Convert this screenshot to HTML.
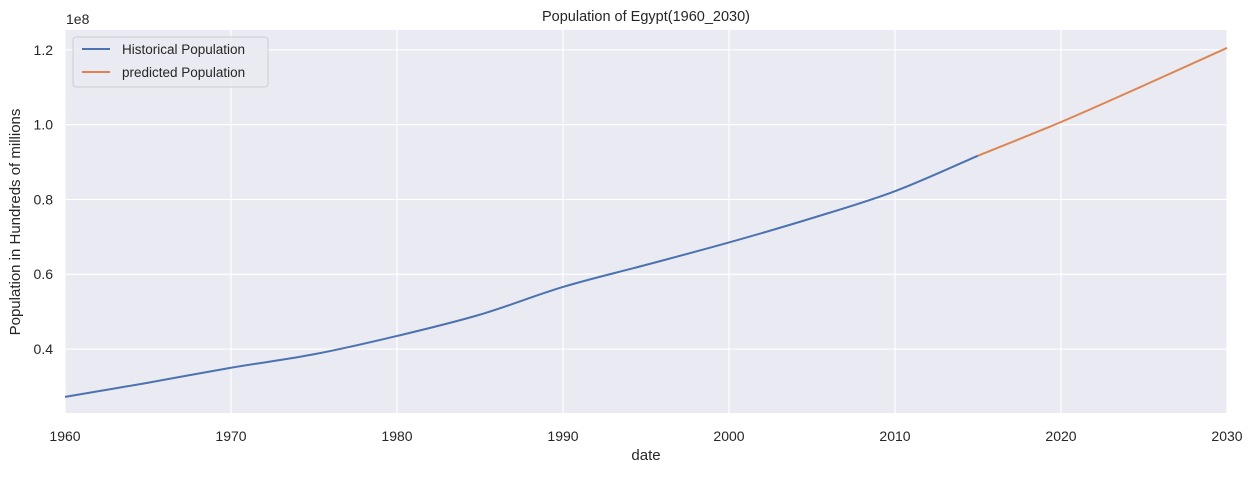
<!DOCTYPE html>
<html><head><meta charset="utf-8"><style>
body{margin:0;background:#fff;font-family:"Liberation Sans","DejaVu Sans",sans-serif;}
svg text{font-family:"Liberation Sans","DejaVu Sans",sans-serif;fill:#262626;}
</style></head><body>
<svg id="chart" width="1254" height="473" xmlns="http://www.w3.org/2000/svg">
<rect x="65" y="30" width="1162" height="383" fill="#eaeaf2"/>
<g id="grid"></g>
<g id="ticks"></g>
<g id="lines"></g>
<text x="646" y="21" font-size="14.5" text-anchor="middle">Population of Egypt(1960_2030)</text>
<text x="646" y="460" font-size="15" text-anchor="middle">date</text>
<text transform="translate(20,222) rotate(-90)" font-size="15" text-anchor="middle">Population in Hundreds of millions</text>
<text x="66" y="24" font-size="14">1e8</text>
<g>
<rect x="73" y="37" width="195" height="50" rx="3" fill="#eaeaf2" stroke="#cccccc" opacity="0.9"/>
<line x1="82" y1="49" x2="110" y2="49" stroke="#4c72b0" stroke-width="2"/>
<text x="122" y="54" font-size="13.5">Historical Population</text>
<line x1="82" y1="72" x2="110" y2="72" stroke="#dd8452" stroke-width="2"/>
<text x="122" y="77" font-size="13.5">predicted Population</text>
</g>
</svg>
<script>
const histYears=[1960,1965,1970,1975,1980,1985,1990,1995,2000,2005,2010,2015];
const histValues=[0.272,0.31,0.35,0.386,0.435,0.492,0.566,0.625,0.685,0.75,0.822,0.917];
const predYears=[2015,2020,2025,2030];
const predValues=[0.917,1.007,1.105,1.205];
const xTicks=[1960,1970,1980,1990,2000,2010,2020,2030];
const yTicks=[0.4,0.6,0.8,1.0,1.2];
const yTickLabels=["0.4","0.6","0.8","1.0","1.2"];
const X0=65,X1=1227,Y0=413,Y1=30;
const xMin=1960,xMax=2030,yMin=0.229,yMax=1.253;
const sx=v=>X0+(v-xMin)/(xMax-xMin)*(X1-X0);
const sy=v=>Y0-(v-yMin)/(yMax-yMin)*(Y0-Y1);
const NS="http://www.w3.org/2000/svg";
const grid=document.getElementById('grid'),ticks=document.getElementById('ticks'),lines=document.getElementById('lines');
function mk(t,a,p){const e=document.createElementNS(NS,t);for(const k in a)e.setAttribute(k,a[k]);p.appendChild(e);return e;}
xTicks.forEach(t=>{
 const l=mk('line',{x1:sx(t),x2:sx(t),y1:Y1,y2:Y0,stroke:'#fff','stroke-width':1.2},grid);
 
 
 const tx=mk('text',{x:sx(t),y:Y0+28,'font-size':14,'text-anchor':'middle'},ticks);tx.textContent=t;
 
 
});
yTicks.forEach((t,i)=>{
 const l=mk('line',{x1:X0,x2:X1,y1:sy(t),y2:sy(t),stroke:'#fff','stroke-width':1.2},grid);
 
 
 const tx=mk('text',{x:X0-12,y:sy(t)+5,'font-size':14,'text-anchor':'end'},ticks);tx.textContent=yTickLabels[i];
 
 
});
function path(xs,ys,color,name){
 const pts=xs.map((x,i)=>[sx(x),sy(ys[i])]);
 let d='M'+pts[0][0]+','+pts[0][1];
 for(let i=0;i<pts.length-1;i++){
  const p0=pts[Math.max(0,i-1)],p1=pts[i],p2=pts[i+1],p3=pts[Math.min(pts.length-1,i+2)];
  const c1=[p1[0]+(p2[0]-p0[0])/6,p1[1]+(p2[1]-p0[1])/6],c2=[p2[0]-(p3[0]-p1[0])/6,p2[1]-(p3[1]-p1[1])/6];
  d+=` C${c1[0]},${c1[1]} ${c2[0]},${c2[1]} ${p2[0]},${p2[1]}`;
 }
 const e=mk('path',{d:d,fill:'none',stroke:color,'stroke-width':2},lines);
 
 
}
path(histYears,histValues,'#4c72b0','historical-population-line');
path(predYears,predValues,'#dd8452','predicted-population-line');
</script>
</body></html>
